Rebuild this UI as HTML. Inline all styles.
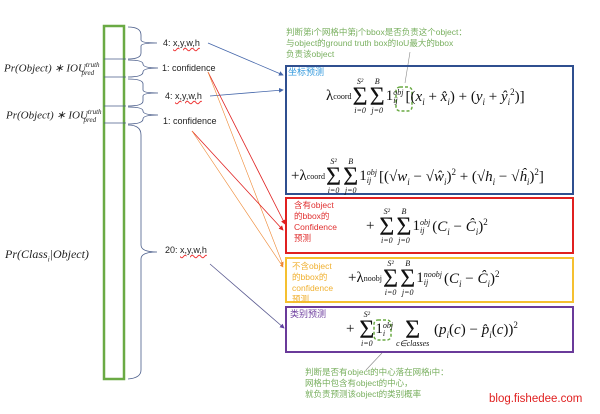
<!DOCTYPE html>
<html><head><meta charset="utf-8"><style>
body{margin:0;width:600px;height:414px;background:#fff;position:relative;overflow:hidden;font-family:"Liberation Sans","Noto Sans CJK SC",sans-serif}
.a{position:absolute;white-space:nowrap}
.m{font-family:"Liberation Serif",serif;font-style:italic;color:#222}
.lbl{font-size:9px;color:#222}
.u{text-decoration:underline wavy #e33;text-decoration-thickness:1px}
.cn{font-size:8.5px;line-height:11px}
.f{font-family:"Liberation Serif",serif;color:#111;font-size:15px;display:flex;align-items:center}
.f i{font-style:italic}
.f sup,.f sub{font-size:9px}
.s{display:inline-flex;flex-direction:column;align-items:center;line-height:1;margin:0 1px}
.s b{font-weight:normal;font-size:8px;font-style:italic}
.s em{font-style:normal;font-size:26px;line-height:21px}
.o{display:inline-flex;flex-direction:column;line-height:1;font-size:8px;font-style:italic;margin-right:2px}
.l{font-size:8px;align-self:flex-end;margin-bottom:14px}
</style></head><body>
<svg class="a" style="left:0;top:0" width="600" height="414">
<defs>
<marker id="ab" markerWidth="6" markerHeight="6" refX="5" refY="3" orient="auto"><path d="M0,0L6,3L0,6z" fill="#4466aa"/></marker>
<marker id="ar" markerWidth="6" markerHeight="6" refX="5" refY="3" orient="auto"><path d="M0,0L6,3L0,6z" fill="#e02020"/></marker>
<marker id="ao" markerWidth="6" markerHeight="6" refX="5" refY="3" orient="auto"><path d="M0,0L6,3L0,6z" fill="#ee8833"/></marker>
<marker id="ap" markerWidth="6" markerHeight="6" refX="5" refY="3" orient="auto"><path d="M0,0L6,3L0,6z" fill="#6040a0"/></marker>
</defs>
<rect x="104" y="26" width="20" height="353" fill="none" stroke="#6aaa44" stroke-width="2.5"/>
<g stroke="#4a5d8a" stroke-width="0.8" fill="none">
<line x1="104" y1="59" x2="126" y2="59"/><line x1="104" y1="77" x2="126" y2="77"/>
<line x1="104" y1="106" x2="126" y2="106"/><line x1="104" y1="123" x2="126" y2="123"/>
<path d="M128,27 Q141,27 141,35 L141,40 Q141,43 157,43 Q141,43 141,46 L141,53 Q141,59 128,59"/>
<path d="M128,60 Q143,60 143,64 Q143,68 158,68 Q143,68 143,72 Q143,77 128,77"/>
<path d="M128,79 Q143,79 143,84 L143,90 Q143,93 158,93 Q143,93 143,96 L143,101 Q143,106 128,106"/>
<path d="M128,107 Q143,107 143,111 Q143,115 158,115 Q143,115 143,119 Q143,124 128,124"/>
<path d="M128,125 Q141,125 141,135 L141,245 Q141,252 157,252 Q141,252 141,259 L141,370 Q141,378 128,379"/>
</g>
<line x1="208" y1="43" x2="283" y2="75" stroke="#4466aa" stroke-width="0.8" marker-end="url(#ab)"/>
<line x1="210" y1="96" x2="283" y2="90" stroke="#4466aa" stroke-width="0.8" marker-end="url(#ab)"/>
<line x1="208" y1="72" x2="285" y2="224" stroke="#e02020" stroke-width="0.8" marker-end="url(#ar)"/>
<line x1="208" y1="72" x2="283" y2="265" stroke="#ee8833" stroke-width="0.6" marker-end="url(#ao)"/>
<line x1="192" y1="131" x2="283" y2="230" stroke="#e02020" stroke-width="0.8" marker-end="url(#ar)"/>
<line x1="192" y1="131" x2="283" y2="267" stroke="#ee8833" stroke-width="0.6" marker-end="url(#ao)"/>
<line x1="210" y1="264" x2="284" y2="328" stroke="#5a5a90" stroke-width="0.8" marker-end="url(#ap)"/>
<line x1="410" y1="52" x2="405" y2="83" stroke="#888" stroke-width="0.6"/>
<line x1="382" y1="353" x2="366" y2="370" stroke="#888" stroke-width="0.6"/>
<rect x="286" y="66" width="287" height="128" fill="none" stroke="#2f4f8f" stroke-width="2"/>
<rect x="286" y="198" width="287" height="55" fill="none" stroke="#e02020" stroke-width="2"/>
<rect x="286" y="258" width="287" height="44" fill="none" stroke="#f5c030" stroke-width="2"/>
<rect x="286" y="307" width="287" height="45" fill="none" stroke="#6a3a9a" stroke-width="2"/>
<rect x="396" y="87" width="16" height="24" rx="4" fill="none" stroke="#6aaa44" stroke-width="1.5" stroke-dasharray="3,2"/>
<rect x="374" y="320" width="17" height="20" rx="4" fill="none" stroke="#6aaa44" stroke-width="1.5" stroke-dasharray="3,2"/>
</svg>
<div class="a m" style="left:4px;top:61px;font-size:11px">Pr(Object) ∗ IOU<sup style="font-size:7px">truth</sup><sub style="font-size:7px;margin-left:-18px">pred</sub></div>
<div class="a m" style="left:6px;top:108px;font-size:11px">Pr(Object) ∗ IOU<sup style="font-size:7px">truth</sup><sub style="font-size:7px;margin-left:-18px">pred</sub></div>
<div class="a m" style="left:5px;top:247px;font-size:12px">Pr(Class<sub style="font-size:7px">i</sub>|Object)</div>
<div class="a lbl" style="left:163px;top:38px">4: <span class="u">x,y,w,h</span></div>
<div class="a lbl" style="left:162px;top:63px">1: confidence</div>
<div class="a lbl" style="left:165px;top:91px">4: <span class="u">x,y,w,h</span></div>
<div class="a lbl" style="left:163px;top:116px">1: confidence</div>
<div class="a lbl" style="left:165px;top:245px">20: <span class="u">x,y,w,h</span></div>
<div class="a cn" style="left:286px;top:27px;color:#7ab060">判断第i个网格中第j个bbox是否负责这个object：<br>与object的ground truth box的IoU最大的bbox<br>负责该object</div>
<div class="a cn" style="left:288px;top:67px;color:#3399dd;font-size:9px">坐标预测</div>
<div class="a cn" style="left:294px;top:200px;color:#e03030">含有object<br>的bbox的<br>Confidence<br>预测</div>
<div class="a cn" style="left:292px;top:261px;color:#f0b030">不含object<br>的bbox的<br>confidence<br>预测</div>
<div class="a cn" style="left:290px;top:309px;color:#7040a0;font-size:9px">类别预测</div>
<div class="a cn" style="left:305px;top:367px;color:#7ab060">判断是否有object的中心落在网格i中：<br>网格中包含有object的中心，<br>就负责预测该object的类别概率</div>
<div class="a" style="left:489px;top:393px;color:#e02020;font-size:11.5px">blog.fishedee.com</div>

<div class="a f" style="left:326px;top:78px"><span>λ</span><span class="l">coord</span><span class="s"><b>S²</b><em>Σ</em><b>i=0</b></span><span class="s"><b>B</b><em>Σ</em><b>j=0</b></span><span>1</span><span class="o"><span>obj</span><span>ij</span></span><span>[(<i>x<sub>i</sub></i> + <i>x̂<sub>i</sub></i>) + (<i>y<sub>i</sub></i> + <i>ŷ<sub>i</sub></i><sup>2</sup>)]</span></div>
<div class="a f" style="left:291px;top:158px"><span>+λ</span><span class="l">coord</span><span class="s"><b>S²</b><em>Σ</em><b>i=0</b></span><span class="s"><b>B</b><em>Σ</em><b>j=0</b></span><span>1</span><span class="o"><span>obj</span><span>ij</span></span><span>[(√<i>w<sub>i</sub></i> − √<i>ŵ<sub>i</sub></i>)<sup>2</sup> + (√<i>h<sub>i</sub></i> − √<i>ĥ<sub>i</sub></i>)<sup>2</sup>]</span></div>
<div class="a f" style="left:366px;top:208px"><span>+&nbsp;</span><span class="s"><b>S²</b><em>Σ</em><b>i=0</b></span><span class="s"><b>B</b><em>Σ</em><b>j=0</b></span><span>1</span><span class="o"><span>obj</span><span>ij</span></span><span>(<i>C<sub>i</sub></i> − <i>Ĉ<sub>i</sub></i>)<sup>2</sup></span></div>
<div class="a f" style="left:348px;top:260px"><span>+λ</span><span class="l">noobj</span><span class="s"><b>S²</b><em>Σ</em><b>i=0</b></span><span class="s"><b>B</b><em>Σ</em><b>j=0</b></span><span>1</span><span class="o"><span>noobj</span><span>ij</span></span><span>(<i>C<sub>i</sub></i> − <i>Ĉ<sub>i</sub></i>)<sup>2</sup></span></div>
<div class="a f" style="left:346px;top:311px"><span>+&nbsp;</span><span class="s"><b>S²</b><em>Σ</em><b>i=0</b></span><span>1</span><span class="o"><span>obj</span><span>i</span></span><span class="s"><b>&nbsp;</b><em>Σ</em><b>c∈classes</b></span><span>&nbsp;(<i>p<sub>i</sub></i>(<i>c</i>) − <i>p̂<sub>i</sub></i>(<i>c</i>))<sup>2</sup></span></div>
</body></html>
